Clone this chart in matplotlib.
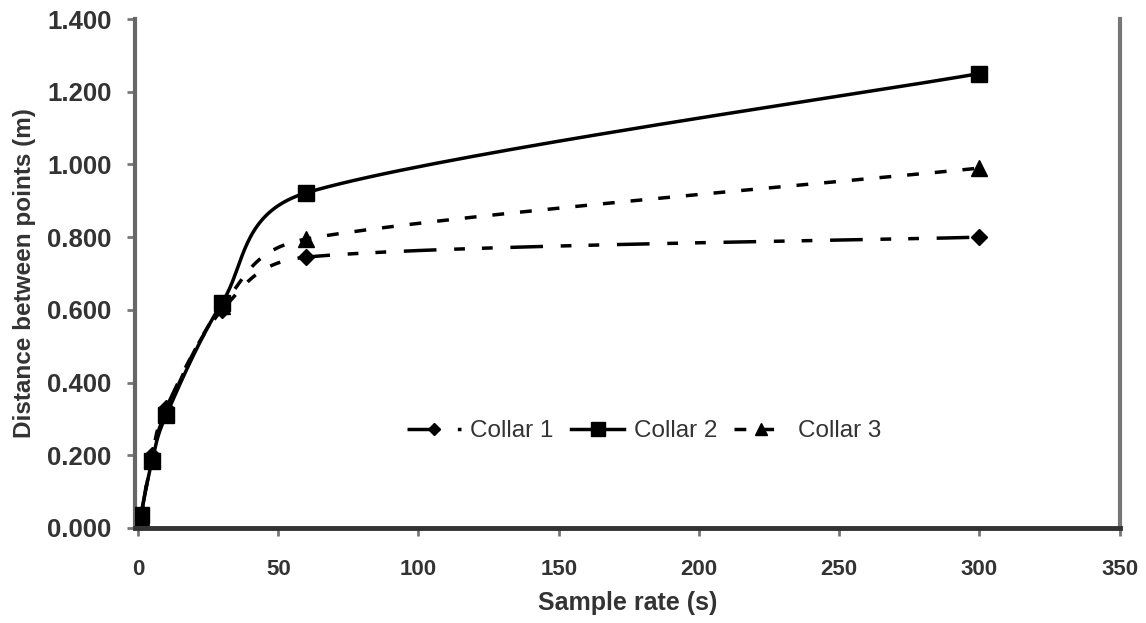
import numpy as np
import matplotlib
matplotlib.use("Agg")
import matplotlib.pyplot as plt

# sample rates (s) and distance between points (m) per collar
sample_rate = [1, 5, 10, 30, 60, 300]
collar_1 = [0.030, 0.200, 0.330, 0.600, 0.745, 0.800]
collar_2 = [0.035, 0.185, 0.310, 0.620, 0.922, 1.250]
collar_3 = [0.030, 0.190, 0.320, 0.610, 0.795, 0.990]

x_ticks = [0, 50, 100, 150, 200, 250, 300, 350]
y_ticks = [0.0, 0.2, 0.4, 0.6, 0.8, 1.0, 1.2, 1.4]

XMAX, YMAX = 350, 1.4
# rough pixel size of the plot area, used so smoothing behaves like a spreadsheet chart
PX_W, PX_H = 985.0, 509.0


def smooth(xs, ys, n=40):
    # bezier smoothing through the points, tangents clamped to half the segment
    p = np.column_stack([np.asarray(xs) / XMAX * PX_W, np.asarray(ys) / YMAX * PX_H])
    out = [p[0]]
    for i in range(len(p) - 1):
        p0 = p[i - 1] if i > 0 else p[i]
        p1, p2 = p[i], p[i + 1]
        p3 = p[i + 2] if i + 2 < len(p) else p[i + 1]
        seg = np.linalg.norm(p2 - p1)
        a1 = (p2 - p0) / 6.0
        a2 = (p3 - p1) / 6.0
        for a in (a1, a2):
            ln = np.linalg.norm(a)
            if ln > seg * 0.5:
                a *= seg * 0.5 / ln
        c1, c2 = p1 + a1, p2 - a2
        t = np.linspace(0, 1, n)[1:, None]
        pts = ((1 - t) ** 3) * p1 + 3 * ((1 - t) ** 2) * t * c1 + 3 * (1 - t) * t ** 2 * c2 + t ** 3 * p2
        out.extend(pts)
    out = np.array(out)
    return out[:, 0] / PX_W * XMAX, out[:, 1] / PX_H * YMAX


plt.rcParams['font.family'] = ['Liberation Sans', 'DejaVu Sans']

fig = plt.figure(figsize=(11.46, 6.23), dpi=100)
ax = fig.add_axes([0.118, 0.1525, 0.859, 0.817])

series = [
    ("Collar 1", collar_1, "D", 8, (0, (9.4, 5.1, 3.1, 4.9, 3.1, 5.1))),
    ("Collar 2", collar_2, "s", 12, "-"),
    ("Collar 3", collar_3, "^", 11, (0, (3.4, 4.6))),
]

handles = []
for name, vals, mk, ms, ls in series:
    sx, sy = smooth(sample_rate, vals)
    ax.plot(sx, sy, color="black", lw=2.5, linestyle=ls, zorder=3)
    ax.plot(sample_rate, vals, linestyle="none", marker=mk, markersize=ms,
            color="black", zorder=4)
    h, = ax.plot([], [], color="black", lw=2.5, linestyle=ls, marker=mk,
                 markersize=ms * 0.8, label=name)
    handles.append(h)

ax.set_xlim(0 - 1, XMAX)
ax.set_ylim(0, YMAX)
ax.set_xticks(x_ticks)
ax.set_yticks(y_ticks)
ax.set_yticklabels([f"{v:.3f}" for v in y_ticks])

for lab in ax.get_xticklabels():
    lab.set_fontweight("bold")
    lab.set_fontsize(16)
    lab.set_color("#333333")
for lab in ax.get_yticklabels():
    lab.set_fontweight("bold")
    lab.set_fontsize(18.5)
    lab.set_color("#333333")

ax.tick_params(axis="both", direction="out", length=6, width=2, color="#777777")
ax.tick_params(axis="x", pad=16)
ax.tick_params(axis="y", pad=11)

ax.spines["top"].set_visible(False)
ax.spines["left"].set_color("#666666")
ax.spines["left"].set_linewidth(3)
ax.spines["right"].set_color("#777777")
ax.spines["right"].set_linewidth(3)
ax.spines["bottom"].set_color("#333333")
ax.spines["bottom"].set_linewidth(3.5)

ax.set_xlabel("Sample rate (s)", fontsize=18, fontweight="bold", color="#333333", labelpad=8)
ax.set_ylabel("Distance between points (m)", fontsize=17.5, fontweight="bold", color="#333333", labelpad=8)

leg = ax.legend(handles=handles, loc="center", bbox_to_anchor=(0.517, 0.19), ncol=3,
                frameon=False, fontsize=17.5, numpoints=1, handlelength=2.2,
                handletextpad=0.4, columnspacing=0.7)
for t in leg.get_texts():
    t.set_color("#333333")

fig.savefig("out.png", dpi=100)
